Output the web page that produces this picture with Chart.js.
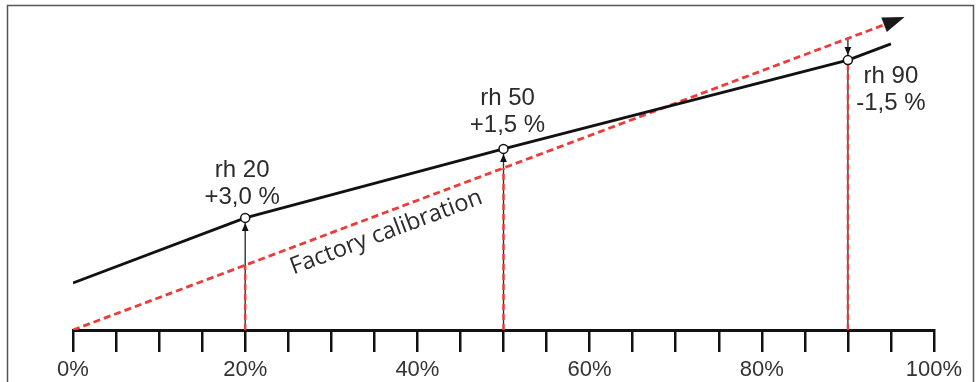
<!DOCTYPE html>
<html>
<head>
<meta charset="utf-8">
<script src="https://cdn.jsdelivr.net/npm/chart.js@4.4.1/dist/chart.umd.min.js"></script>
<style>
  html, body { margin: 0; padding: 0; background: #fff; }
  #wrap { position: relative; width: 979px; height: 382px; }
</style>
</head>
<body>
<div id="wrap"><canvas id="chart" width="979" height="382"></canvas></div>
<script>
// Relative humidity (%): x = reference value, y = sensor reading (schematic)
const measuredX = [0, 20, 50, 90, 95];
const measuredY = [14.5, 34.6, 55.9, 83.3, 88.3];
const factoryX = [0, 94.2];
const factoryY = [0, 94.2];
const calPoints = [20, 50, 90];
const calNames = ['rh 20', 'rh 50', 'rh 90'];
const calOffsets = ['+3,0 %', '+1,5 %', '-1,5 %'];
const factoryLabel = 'Factory calibration';
const tickStep = 5;
const labelStep = 20;

const RED = '#ef3a3a';
const INK = '#111111';
const TEXT = '#2b2b2b';

// label offsets in px from each calibration point (first line baseline)
const labelPlacement = [
  { dx: -3, dy: -41 },
  { dx: 4, dy: -44 },
  { dx: 43, dy: 23 }
];

const measuredAt = (v) => measuredY[measuredX.indexOf(v)];

const toPoints = (xs, ys) => xs.map((v, i) => ({ x: v, y: ys[i] }));

// vertical guides: thin dark line up to the higher value, red dashes up to the lower one
const guideSets = [];
calPoints.forEach(cx => {
  const m = measuredAt(cx);
  guideSets.push({
    data: [{ x: cx, y: 0 }, { x: cx, y: Math.max(m, cx) }],
    borderColor: '#333333',
    borderWidth: 1.4,
    pointRadius: 0,
    order: 5
  });
  guideSets.push({
    data: [{ x: cx, y: 0 }, { x: cx, y: Math.min(m, cx) }],
    borderColor: RED,
    borderWidth: 2.4,
    borderDash: [6, 4],
    pointRadius: 0,
    order: 4
  });
});

function drawArrow(ctx, bx, by, ang, len, half, color) {
  const tx = bx + Math.cos(ang) * len;
  const ty = by + Math.sin(ang) * len;
  const nx = -Math.sin(ang) * half;
  const ny = Math.cos(ang) * half;
  ctx.beginPath();
  ctx.moveTo(tx, ty);
  ctx.lineTo(bx + nx, by + ny);
  ctx.lineTo(bx - nx, by - ny);
  ctx.closePath();
  ctx.fillStyle = color;
  ctx.fill();
}

const decor = {
  id: 'decor',
  beforeDraw(chart) {
    const ctx = chart.ctx;
    ctx.save();
    ctx.strokeStyle = '#555555';
    ctx.lineWidth = 1.5;
    ctx.strokeRect(7.5, 5.5, 966, 420);
    ctx.restore();
  },
  afterDatasetsDraw(chart) {
    const { ctx, scales: { x, y } } = chart;
    ctx.save();

    // arrow head at the end of the factory line
    const n = factoryX.length - 1;
    const x0 = x.getPixelForValue(factoryX[n - 1]), y0 = y.getPixelForValue(factoryY[n - 1]);
    const x1 = x.getPixelForValue(factoryX[n]), y1 = y.getPixelForValue(factoryY[n]);
    const ang = Math.atan2(y1 - y0, x1 - x0);
    drawArrow(ctx, x1, y1, ang, 22, 7.8, '#1a1a1a');

    // small arrows from factory line to measured point + labels
    ctx.font = '24px "Liberation Sans", Arial, sans-serif';
    ctx.textAlign = 'center';
    ctx.textBaseline = 'alphabetic';
    calPoints.forEach((cx, i) => {
      const px = x.getPixelForValue(cx);
      const my = y.getPixelForValue(measuredAt(cx));
      const fy = y.getPixelForValue(cx);
      if (my < fy) {
        drawArrow(ctx, px, my + 13, -Math.PI / 2, 8, 3.4, INK);
      } else {
        drawArrow(ctx, px, my - 13, Math.PI / 2, 8, 3.4, INK);
      }
      const p = labelPlacement[i];
      ctx.fillStyle = TEXT;
      ctx.fillText(calNames[i], px + p.dx, my + p.dy);
      ctx.fillText(calOffsets[i], px + p.dx, my + p.dy + 27);
    });

    // rotated label under the factory line
    const lx = x.getPixelForValue(35.6), ly = y.getPixelForValue(35.6);
    const off = 19;
    ctx.translate(lx - Math.sin(ang) * off, ly + Math.cos(ang) * off);
    ctx.rotate(ang);
    ctx.font = '23.6px "Open Sans", sans-serif';
    ctx.textBaseline = 'middle';
    ctx.fillStyle = TEXT;
    ctx.fillText(factoryLabel, 0, 0);
    ctx.restore();
  }
};

new Chart(document.getElementById('chart'), {
  type: 'line',
  data: {
    datasets: [
      {
        label: 'Measured',
        data: toPoints(measuredX, measuredY),
        borderColor: INK,
        borderWidth: 2.8,
        pointRadius: measuredX.map(v => calPoints.includes(v) ? 4.5 : 0),
        pointBackgroundColor: '#ffffff',
        pointBorderColor: INK,
        pointBorderWidth: 1.5,
        order: 1
      },
      {
        label: factoryLabel,
        data: toPoints(factoryX, factoryY),
        borderColor: RED,
        borderWidth: 2.8,
        borderDash: [7, 4],
        pointRadius: 0,
        order: 2
      },
      ...guideSets
    ]
  },
  options: {
    responsive: false,
    animation: false,
    events: [],
    layout: { padding: { left: 73, right: 45, top: 6, bottom: 0 } },
    plugins: { legend: { display: false }, tooltip: { enabled: false } },
    scales: {
      x: {
        type: 'linear',
        min: 0,
        max: 100,
        afterFit: (scale) => { scale.height = 52; },
        border: { display: true, color: INK, width: 3 },
        grid: { drawOnChartArea: false, drawTicks: true, tickLength: 22, color: INK, lineWidth: 2.5 },
        ticks: {
          stepSize: tickStep,
          autoSkip: false,
          maxRotation: 0,
          padding: 10,
          color: '#333333',
          font: { family: '"Liberation Sans", Arial, sans-serif', size: 22, lineHeight: 0.727 },
          callback: v => v % labelStep === 0 ? v + '%' : ''
        }
      },
      y: { type: 'linear', display: false, min: 0, max: 100 }
    }
  },
  plugins: [decor]
});
</script>
</body>
</html>
